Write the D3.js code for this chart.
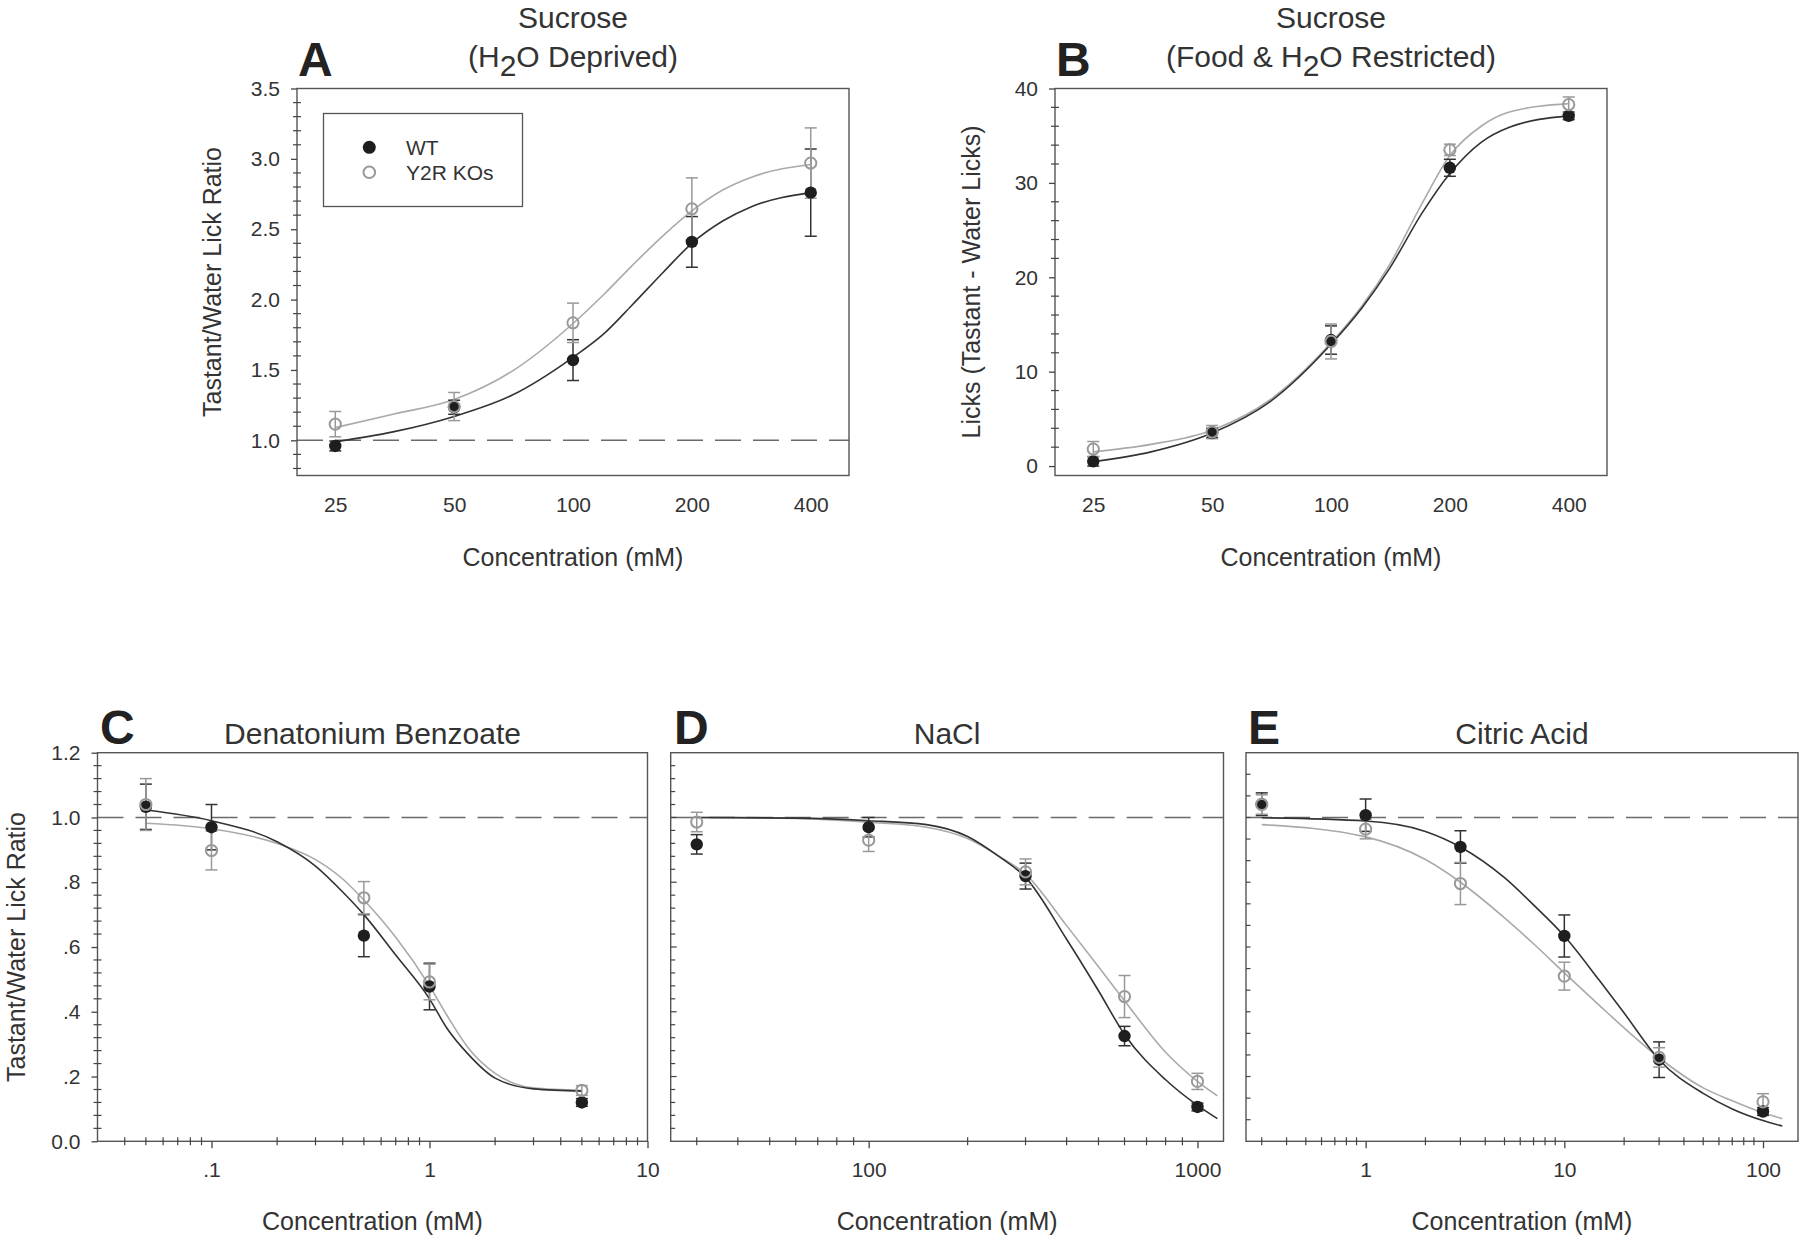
<!DOCTYPE html>
<html><head><meta charset="utf-8">
<script src="https://cdn.jsdelivr.net/npm/d3@7"></script>
<style>
html,body{margin:0;padding:0;background:#fff;}
svg{display:block;}
</style></head><body>
<svg id="chart" width="1800" height="1236"></svg>
<script>
// ---------------- DATA ----------------
// Panel A: Sucrose (H2O deprived) - lick ratio
const concSucrose = [25, 50, 100, 200, 400];
const aWT    = [0.96, 1.235, 1.57, 2.41, 2.76];
const aWTErr = [0.035, 0.05, 0.145, 0.18, 0.31];
const aKO    = [1.115, 1.24, 1.835, 2.645, 2.97];
const aKOErr = [0.09, 0.10, 0.14, 0.22, 0.25];
const aFitX  = [25, 35, 50, 70, 100, 120, 141, 170, 200, 240, 283, 400];
const aFitWT = [0.99, 1.06, 1.17, 1.32, 1.59, 1.76, 1.96, 2.20, 2.40, 2.56, 2.66, 2.76];
const aFitKO = [1.09, 1.185, 1.29, 1.49, 1.83, 2.04, 2.24, 2.46, 2.63, 2.78, 2.87, 2.96];

// Panel B: Sucrose (food & H2O restricted) - licks
const bWT    = [0.5, 3.5, 13.35, 31.6, 37.1];
const bWTErr = [0.5, 0.5, 1.5, 0.9, 0.4];
const bKO    = [1.8, 3.6, 13.2, 33.5, 38.3];
const bKOErr = [0.8, 0.7, 1.85, 0.6, 0.8];
const bFitX  = [25, 35, 50, 70, 100, 120, 141, 170, 200, 240, 283, 400];
const bFitWT = [0.45, 1.5, 3.5, 6.8, 12.9, 16.8, 21.0, 26.8, 31.0, 34.3, 35.9, 37.1];
const bFitKO = [1.5, 2.3, 3.8, 7.0, 13.05, 17.0, 21.4, 27.8, 32.9, 36.0, 37.5, 38.4];

// Panel C: Denatonium Benzoate
const concDen = [0.05, 0.1, 0.5, 1, 5];
const cWT    = [1.033, 0.97, 0.635, 0.478, 0.12];
const cWTErr = [0.07, 0.07, 0.065, 0.072, 0.012];
const cKO    = [1.04, 0.898, 0.752, 0.492, 0.157];
const cKOErr = [0.08, 0.06, 0.05, 0.055, 0.015];
const cFitX  = [0.05, 0.1, 0.2, 0.3, 0.4, 0.5, 0.7, 1, 1.2, 1.5, 2, 3, 5];
const cFitWT = [1.023, 0.99, 0.925, 0.85, 0.77, 0.70, 0.575, 0.44, 0.35, 0.27, 0.195, 0.162, 0.155];
const cFitKO = [0.982, 0.965, 0.92, 0.87, 0.81, 0.745, 0.63, 0.48, 0.39, 0.29, 0.21, 0.165, 0.157];

// Panel D: NaCl
const concNaCl = [30, 100, 300, 600, 1000];
const dWT    = [0.917, 0.97, 0.819, 0.325, 0.106];
const dWTErr = [0.03, 0.03, 0.04, 0.03, 0.012];
const dKO    = [0.986, 0.93, 0.832, 0.447, 0.185];
const dKOErr = [0.03, 0.035, 0.04, 0.065, 0.025];
const dFitX  = [30, 60, 100, 150, 200, 250, 300, 400, 500, 600, 800, 1000, 1150];
const dFitWT = [1.0, 0.998, 0.99, 0.978, 0.941, 0.878, 0.815, 0.624, 0.465, 0.33, 0.19, 0.111, 0.07];
const dFitKO = [1.0, 0.997, 0.985, 0.97, 0.935, 0.88, 0.825, 0.666, 0.539, 0.434, 0.275, 0.185, 0.14];

// Panel E: Citric Acid
const concCit = [0.3, 1, 3, 10, 30, 100];
const eWT    = [1.041, 1.007, 0.909, 0.634, 0.252, 0.092];
const eWTErr = [0.035, 0.05, 0.05, 0.065, 0.055, 0.012];
const eKO    = [1.04, 0.964, 0.796, 0.51, 0.259, 0.122];
const eKOErr = [0.03, 0.03, 0.065, 0.043, 0.03, 0.025];
const eFitX  = [0.3, 1, 2, 3, 5, 7, 10, 15, 20, 30, 50, 70, 100, 125];
const eFitWT = [0.999, 0.989, 0.957, 0.909, 0.814, 0.73, 0.634, 0.497, 0.396, 0.252, 0.148, 0.10, 0.064, 0.047];
const eFitKO = [0.978, 0.94, 0.87, 0.80, 0.69, 0.61, 0.52, 0.42, 0.35, 0.258, 0.165, 0.125, 0.088, 0.07];

// Tick values / labels
const sucroseXTicks  = [25, 50, 100, 200, 400];
const sucroseXLabels = ["25", "50", "100", "200", "400"];
const aYTicks  = [1.0, 1.5, 2.0, 2.5, 3.0, 3.5];
const aYLabels = ["1.0", "1.5", "2.0", "2.5", "3.0", "3.5"];
const bYTicks  = [0, 10, 20, 30, 40];
const bYLabels = ["0", "10", "20", "30", "40"];
const ratioYTicks  = [0, 0.2, 0.4, 0.6, 0.8, 1.0, 1.2];
const ratioYLabels = ["0.0", ".2", ".4", ".6", ".8", "1.0", "1.2"];
const cXTicks = [0.1, 1, 10];   const cXLabels = [".1", "1", "10"];
const dXTicks = [100, 1000];    const dXLabels = ["100", "1000"];
const eXTicks = [1, 10, 100];   const eXLabels = ["1", "10", "100"];
const legendLabels = ["WT", "Y2R KOs"];

// ---------------- LAYOUT / STYLE ----------------
const FONT = '"Liberation Sans", Arial, Helvetica, sans-serif';
const TXT = "#333";
const WT_COL = "#1e1e1e", WT_LINE = "#333", KO_COL = "#999", KO_LINE = "#aaa";

const panels = [
  { letter:"A", box:[297, 88.5, 849, 475.5], xd:[20, 500], yd:[0.75, 3.5],
    conc:concSucrose, wt:aWT, wtErr:aWTErr, ko:aKO, koErr:aKOErr, fitX:aFitX, fitWT:aFitWT, fitKO:aFitKO,
    xMajor:sucroseXTicks, xLabels:sucroseXLabels, xMinor:false, yMajor:aYTicks, yLabels:aYLabels,
    yMinor:d3.range(8, 35).map(i => i / 10).filter(v => Math.abs(v * 2 - Math.round(v * 2)) > 1e-6),
    yLab:"Tastant/Water Lick Ratio", yLabPos:[221, 282], ref:1,
    title:[[["Sucrose",0]], [["(H",0],["2",1],["O Deprived)",0]]], titleY:[27.5, 67],
    letterPos:[298, 76], xTitleY:566 },
  { letter:"B", box:[1055, 88.5, 1607, 475.5], xd:[20, 500], yd:[-1, 40],
    conc:concSucrose, wt:bWT, wtErr:bWTErr, ko:bKO, koErr:bKOErr, fitX:bFitX, fitWT:bFitWT, fitKO:bFitKO,
    xMajor:sucroseXTicks, xLabels:sucroseXLabels, xMinor:false, yMajor:bYTicks, yLabels:bYLabels,
    yMinor:d3.range(2, 40, 2).filter(v => v % 10 !== 0),
    yLab:"Licks (Tastant - Water Licks)", yLabPos:[980, 282], ref:null,
    title:[[["Sucrose",0]], [["(Food & H",0],["2",1],["O Restricted)",0]]], titleY:[27.5, 67],
    letterPos:[1056, 76], xTitleY:566 },
  { letter:"C", box:[97.5, 752.7, 647.5, 1141.3], xd:[0.03, 10], yd:[0, 1.2],
    conc:concDen, wt:cWT, wtErr:cWTErr, ko:cKO, koErr:cKOErr, fitX:cFitX, fitWT:cFitWT, fitKO:cFitKO,
    xMajor:cXTicks, xLabels:cXLabels, xMinor:true, yMajor:ratioYTicks, yLabels:ratioYLabels,
    yMinor:d3.range(1, 30).map(i => i * 0.04).filter(v => Math.abs(v * 5 - Math.round(v * 5)) > 1e-6),
    yLab:"Tastant/Water Lick Ratio", yLabPos:[25, 947], ref:1,
    title:[[["Denatonium Benzoate",0]]], titleY:[744],
    letterPos:[100, 743.5], xTitleY:1230 },
  { letter:"D", box:[670.7, 752.7, 1223.5, 1141.3], xd:[25, 1200], yd:[0, 1.2],
    conc:concNaCl, wt:dWT, wtErr:dWTErr, ko:dKO, koErr:dKOErr, fitX:dFitX, fitWT:dFitWT, fitKO:dFitKO,
    xMajor:dXTicks, xLabels:dXLabels, xMinor:true, yMajor:null, yLabels:null,
    yMinor:d3.range(1, 30).map(i => i * 0.04), inwardMajorEvery:0.2,
    yLab:null, ref:1,
    title:[[["NaCl",0]]], titleY:[744],
    letterPos:[674, 743.5], xTitleY:1230 },
  { letter:"E", box:[1246, 752.7, 1798, 1141.3], xd:[0.25, 150], yd:[0, 1.2],
    conc:concCit, wt:eWT, wtErr:eWTErr, ko:eKO, koErr:eKOErr, fitX:eFitX, fitWT:eFitWT, fitKO:eFitKO,
    xMajor:eXTicks, xLabels:eXLabels, xMinor:true, yMajor:null, yLabels:null,
    yMinor:d3.range(1, 18).map(i => i * 1.2 / 18),
    yLab:null, ref:1,
    title:[[["Citric Acid",0]]], titleY:[744],
    letterPos:[1248, 743.5], xTitleY:1230 }
];

const svg = d3.select("#chart").attr("font-family", FONT);

panels.forEach(p => {
  const [x0, y0, x1, y1] = p.box;
  const w = x1 - x0, h = y1 - y0;
  const g = svg.append("g").attr("transform", `translate(${x0},${y0})`);
  const x = d3.scaleLog().domain(p.xd).range([0, w]);
  const y = d3.scaleLinear().domain(p.yd).range([h, 0]);

  // reference dashed line
  if (p.ref != null) {
    g.append("line").attr("x1", 0).attr("x2", w).attr("y1", y(p.ref)).attr("y2", y(p.ref))
      .attr("stroke", "#6a6a6a").attr("stroke-width", 1.6).attr("stroke-dasharray", "26,12");
  }

  // fitted curves
  const line = d3.line().x(d => x(d[0])).y(d => y(d[1])).curve(d3.curveMonotoneX);
  g.append("path").datum(d3.zip(p.fitX, p.fitKO)).attr("d", line)
    .attr("fill", "none").attr("stroke", KO_LINE).attr("stroke-width", 1.6);
  g.append("path").datum(d3.zip(p.fitX, p.fitWT)).attr("d", line)
    .attr("fill", "none").attr("stroke", WT_LINE).attr("stroke-width", 1.6);

  // error bars
  function errBars(vals, errs, col) {
    const eg = g.append("g").attr("stroke", col).attr("stroke-width", 1.5).attr("fill", "none");
    p.conc.forEach((c, i) => {
      const cx = x(c), yt = y(vals[i] + errs[i]), yb = y(vals[i] - errs[i]);
      eg.append("line").attr("x1", cx).attr("x2", cx).attr("y1", yt).attr("y2", yb);
      eg.append("line").attr("x1", cx - 6).attr("x2", cx + 6).attr("y1", yt).attr("y2", yt);
      eg.append("line").attr("x1", cx - 6).attr("x2", cx + 6).attr("y1", yb).attr("y2", yb);
    });
  }
  errBars(p.wt, p.wtErr, "#333");
  errBars(p.ko, p.koErr, KO_COL);

  // markers
  g.append("g").selectAll("circle").data(p.conc).join("circle")
    .attr("cx", d => x(d)).attr("cy", (d, i) => y(p.wt[i])).attr("r", 6.2).attr("fill", WT_COL);
  g.append("g").selectAll("circle").data(p.conc).join("circle")
    .attr("cx", d => x(d)).attr("cy", (d, i) => y(p.ko[i])).attr("r", 5.6)
    .attr("fill", "none").attr("stroke", KO_COL).attr("stroke-width", 2);

  // frame
  g.append("rect").attr("width", w).attr("height", h).attr("fill", "none")
    .attr("stroke", "#555").attr("stroke-width", 1.4);

  // Y axis
  if (p.yMajor) {
    const ya = d3.axisLeft(y).tickValues(p.yMajor).tickSize(6).tickPadding(11)
      .tickFormat((d, i) => p.yLabels[i]);
    const yg = g.append("g").call(ya).attr("font-family", FONT).attr("font-size", 21);
    yg.select(".domain").remove();
    yg.selectAll("line").attr("stroke", "#444").attr("stroke-width", 1.3);
    yg.selectAll("text").attr("fill", TXT);
    g.append("g").selectAll("line").data(p.yMinor).join("line")
      .attr("x1", -4).attr("x2", 4).attr("y1", d => y(d)).attr("y2", d => y(d))
      .attr("stroke", "#444").attr("stroke-width", 1.2);
  } else {
    g.append("g").selectAll("line").data(p.yMinor).join("line")
      .attr("x1", 0)
      .attr("x2", d => (p.inwardMajorEvery && Math.abs(d / p.inwardMajorEvery - Math.round(d / p.inwardMajorEvery)) < 1e-6) ? 6 : 4.5)
      .attr("y1", d => y(d)).attr("y2", d => y(d))
      .attr("stroke", "#444").attr("stroke-width", 1.2);
  }

  // X axis
  const xa = d3.axisBottom(x).tickValues(p.xMajor).tickFormat((d, i) => p.xLabels[i])
    .tickSize(p.xMinor ? 7 : 0).tickPadding(p.xMinor ? 14 : 22);
  const xg = g.append("g").attr("transform", `translate(0,${h})`).call(xa)
    .attr("font-family", FONT).attr("font-size", 21);
  xg.select(".domain").remove();
  xg.selectAll("line").attr("stroke", "#444").attr("stroke-width", 1.3);
  xg.selectAll("text").attr("fill", TXT);
  if (p.xMinor) {
    const minors = x.ticks().filter(t =>
      !p.xMajor.some(m => Math.abs(m - t) / m < 1e-6) &&
      t > p.xd[0] * 1.0001 && t < p.xd[1] * 0.9999);
    g.append("g").selectAll("line").data(minors).join("line")
      .attr("x1", d => x(d)).attr("x2", d => x(d)).attr("y1", h - 4).attr("y2", h + 4)
      .attr("stroke", "#444").attr("stroke-width", 1.2);
  }

  // axis titles
  svg.append("text").attr("x", x0 + w / 2).attr("y", p.xTitleY).attr("text-anchor", "middle")
    .attr("font-size", 25).attr("fill", TXT).text("Concentration (mM)");
  if (p.yLab) {
    svg.append("text").attr("transform", `translate(${p.yLabPos[0]},${p.yLabPos[1]}) rotate(-90)`)
      .attr("text-anchor", "middle").attr("font-size", 25).attr("fill", TXT).text(p.yLab);
  }

  // panel titles
  p.title.forEach((parts, li) => {
    const t = svg.append("text").attr("x", x0 + w / 2).attr("y", p.titleY[li])
      .attr("text-anchor", "middle").attr("font-size", 30).attr("fill", TXT);
    let shifted = 0;
    parts.forEach(([str, sub]) => {
      const dy = sub ? 9 - shifted : -shifted;
      shifted = sub ? 9 : 0;
      t.append("tspan").attr("dy", dy).text(str);
    });
  });

  // panel letter
  svg.append("text").attr("x", p.letterPos[0]).attr("y", p.letterPos[1])
    .attr("font-size", 48).attr("font-weight", "bold").attr("fill", "#222").text(p.letter);
});

// legend (panel A)
const lg = svg.append("g");
lg.append("rect").attr("x", 323.5).attr("y", 113.5).attr("width", 199).attr("height", 93)
  .attr("fill", "#fff").attr("stroke", "#555").attr("stroke-width", 1.3);
lg.append("circle").attr("cx", 369.3).attr("cy", 147.3).attr("r", 6.5).attr("fill", WT_COL);
lg.append("circle").attr("cx", 369.3).attr("cy", 172.3).attr("r", 5.8)
  .attr("fill", "none").attr("stroke", KO_COL).attr("stroke-width", 2);
lg.selectAll("text.leg").data(legendLabels).join("text").attr("class", "leg")
  .attr("x", 406).attr("y", (d, i) => 155 + i * 25)
  .attr("font-size", 21).attr("fill", TXT).text(d => d);
</script>
</body></html>
